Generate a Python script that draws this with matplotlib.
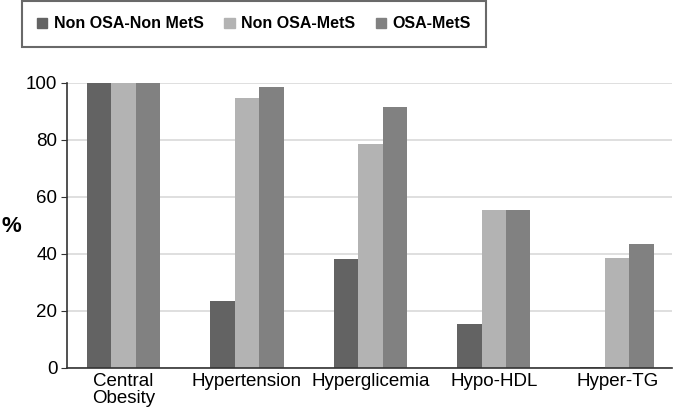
import numpy as np
import matplotlib.pyplot as plt
from matplotlib.patches import Patch

# =========================================================
# DATOS
# =========================================================

categorias = ["Central\nObesity", "Hypertension", "Hyperglicemia", "Hypo-HDL", "Hyper-TG"]

non_osa_non_mets = [100, 23.5, 38.1, 15.2, 0.3]
non_osa_mets = [100, 94.6, 78.6, 55.4, 38.4]
osa_mets = [100, 98.6, 91.5, 55.4, 43.3]

series = ["Non OSA-Non MetS", "Non OSA-MetS", "OSA-MetS"]
colores = ["#636363", "#b3b3b3", "#818181"]

# =========================================================
# FIGURA
# =========================================================

plt.rcParams["font.family"] = ["Liberation Sans", "DejaVu Sans"]

fig = plt.figure(figsize=(6.73, 4.2), dpi=100)
ax = fig.add_axes([0.0996, 0.1245, 0.899, 0.678])

x = np.arange(len(categorias))
ancho = 0.198

for k, (vals, col) in enumerate(zip([non_osa_non_mets, non_osa_mets, osa_mets], colores)):
    ax.bar(x + (k - 1) * ancho, vals, width=ancho, color=col, zorder=2)

ax.set_xlim(-0.458, 4.445)
ax.set_ylim(0, 100)
ax.set_yticks([0, 20, 40, 60, 80, 100])
ax.grid(axis="y", color="#d9d9d9", linewidth=1.2, zorder=0)

ax.set_xticks(x)
ax.set_xticklabels(categorias, fontsize=13.5, linespacing=0.95)
ax.tick_params(axis="x", length=0, pad=4)
ax.tick_params(axis="y", labelsize=13.5, length=4, color="#333333", direction="out", pad=3)

for lado in ["top", "right"]:
    ax.spines[lado].set_visible(False)
ax.spines["left"].set_color("#333333")
ax.spines["bottom"].set_color("#333333")
ax.spines["left"].set_linewidth(1.2)
ax.spines["bottom"].set_linewidth(1.2)

fig.text(0.002, 0.46, "%", fontsize=16, fontweight="bold", va="center", ha="left")

handles = [Patch(color=c, label=s) for c, s in zip(colores, series)]
leg = fig.legend(
    handles=handles,
    loc="upper left",
    bbox_to_anchor=(0.033, 0.997),
    ncol=3,
    frameon=True,
    fancybox=False,
    prop={"size": 11.5, "weight": "bold"},
    handlelength=0.63,
    handleheight=0.63,
    handletextpad=0.4,
    columnspacing=1.3,
    borderpad=0.95,
    borderaxespad=0,
)
leg.get_frame().set_edgecolor("#444444")
leg.get_frame().set_linewidth(1.5)

fig.savefig("out.png", dpi=100)
